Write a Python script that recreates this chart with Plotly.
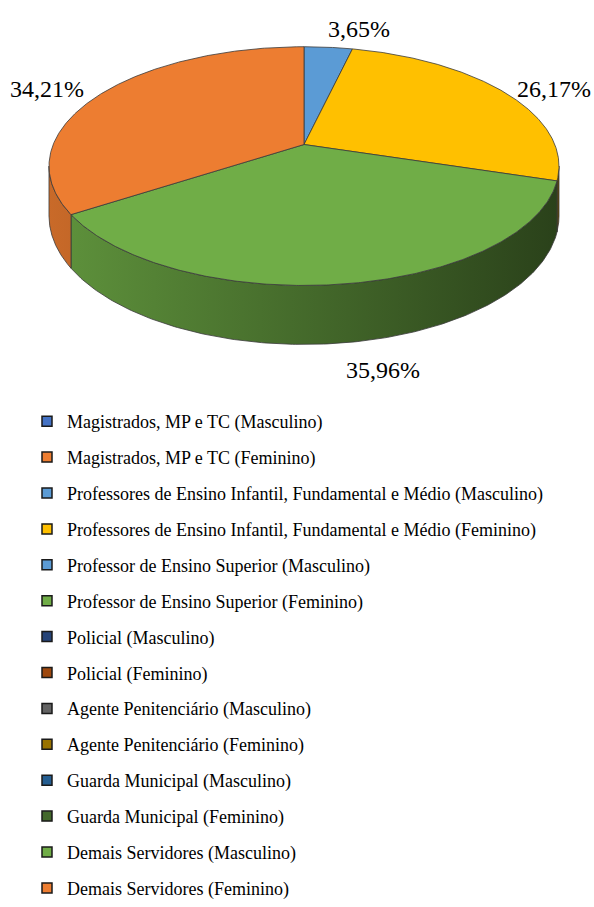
import numpy as np
import plotly.graph_objects as go

# ---------------- data ----------------
categories = [
    "Magistrados, MP e TC (Masculino)",
    "Magistrados, MP e TC (Feminino)",
    "Professores de Ensino Infantil, Fundamental e Médio (Masculino)",
    "Professores de Ensino Infantil, Fundamental e Médio (Feminino)",
    "Professor de Ensino Superior (Masculino)",
    "Professor de Ensino Superior (Feminino)",
    "Policial (Masculino)",
    "Policial (Feminino)",
    "Agente Penitenciário (Masculino)",
    "Agente Penitenciário (Feminino)",
    "Guarda Municipal (Masculino)",
    "Guarda Municipal (Feminino)",
    "Demais Servidores (Masculino)",
    "Demais Servidores (Feminino)",
]
values = [0, 0, 3.65, 26.17, 0, 0, 0, 0, 0, 0, 0, 0, 35.96, 34.21]

# ---------------- styles ----------------
colors = [
    "#4472C4", "#ED7D31", "#5B9BD5", "#FFC000", "#5B9BD5", "#70AD47",
    "#264478", "#9E480E", "#636363", "#997300", "#255E91", "#43682B",
    "#70AD47", "#ED7D31",
]
# label anchor positions (layout, in pixel-like axis units) for non-zero slices
label_pos = {2: (359, 29), 3: (554, 89), 12: (383, 370), 13: (47, 89)}

FONT = "Liberation Serif"

# projection of the tilted disc (perspective), layout constants
CX, RX = 304.0, 250.8
A, B, C = 89.33, 144.5, -0.1809
DEPTH = 48.3


def proj(theta_deg):
    t = np.radians(theta_deg)
    u = np.sin(t)
    v = -np.cos(t)
    den = 1 + C * v
    return CX + RX * u / den, (A * v + B) / den, DEPTH / den


def shade(hexc, f):
    h = hexc.lstrip("#")
    r, g, b = (int(h[i:i + 2], 16) for i in (0, 2, 4))
    return "#%02X%02X%02X" % (int(r * f), int(g * f), int(b * f))


fig = go.Figure()

total = float(sum(values))
starts = np.cumsum([0] + values[:-1]) / total * 360.0
ends = np.cumsum(values) / total * 360.0

VIS_L, VIS_R = 100.42, 259.58  # silhouette angles of the side wall
OUT = "#3A3A3A"

# side walls
for i, val in enumerate(values):
    if val <= 0:
        continue
    s, e = max(starts[i], VIS_L), min(ends[i], VIS_R)
    if e <= s:
        continue
    th = np.linspace(s, e, 200)
    x, y, d = proj(th)
    xs = np.concatenate([x, x[::-1], x[:1]])
    ys = np.concatenate([y, (y + d)[::-1], y[:1]])
    fig.add_trace(go.Scatter(
        x=xs, y=ys, mode="lines", fill="toself",
        line=dict(color=OUT, width=0.8),
        fillgradient=dict(type="horizontal",
                          colorscale=[[0, shade(colors[i], 0.85)],
                                      [1, shade(colors[i], 0.38)]],
                          start=CX - RX * 1.02, stop=CX + RX * 1.02),
        showlegend=False, hoverinfo="skip"))

# top faces
for i, val in enumerate(values):
    if val <= 0:
        continue
    th = np.linspace(starts[i], ends[i], 300)
    x, y, _ = proj(th)
    xs = np.concatenate([[CX], x, [CX]])
    ys = np.concatenate([[B], y, [B]])
    fig.add_trace(go.Scatter(
        x=xs, y=ys, mode="lines", fill="toself", fillcolor=colors[i],
        line=dict(color=OUT, width=0.8),
        showlegend=False, hoverinfo="text",
        text="%s: %.2f%%" % (categories[i], val)))

# legend entries
for i, name in enumerate(categories):
    fig.add_trace(go.Scatter(
        x=[None], y=[None], mode="markers", name=name,
        legendgroup="g%d" % i,
        marker=dict(symbol="square", size=10, color=colors[i],
                    line=dict(color="#1A1A1A", width=1.5))))

# data labels
for i, val in enumerate(values):
    if val <= 0:
        continue
    lx, ly = label_pos[i]
    fig.add_annotation(x=lx, y=ly, xref="x", yref="y",
                       text=("%.2f" % val).replace(".", ",") + "%",
                       showarrow=False,
                       font=dict(family=FONT, size=24, color="#000000"))

fig.update_layout(
    width=594, height=907,
    margin=dict(l=0, r=0, t=0, b=0),
    paper_bgcolor="white", plot_bgcolor="white",
    font=dict(family=FONT, color="#000000"),
    xaxis=dict(range=[0, 594], visible=False, fixedrange=True),
    yaxis=dict(range=[907, 0], visible=False, fixedrange=True),
    showlegend=True,
    legend=dict(x=27 / 594, xanchor="left", y=0, yanchor="bottom",
                font=dict(family=FONT, size=18, color="#000000"),
                tracegroupgap=9.5, bgcolor="rgba(0,0,0,0)"),
)

fig.write_html(
    "out.html",
    config={"displayModeBar": False},
    post_script="document.body.style.margin='0';document.body.style.padding='0';",
)
